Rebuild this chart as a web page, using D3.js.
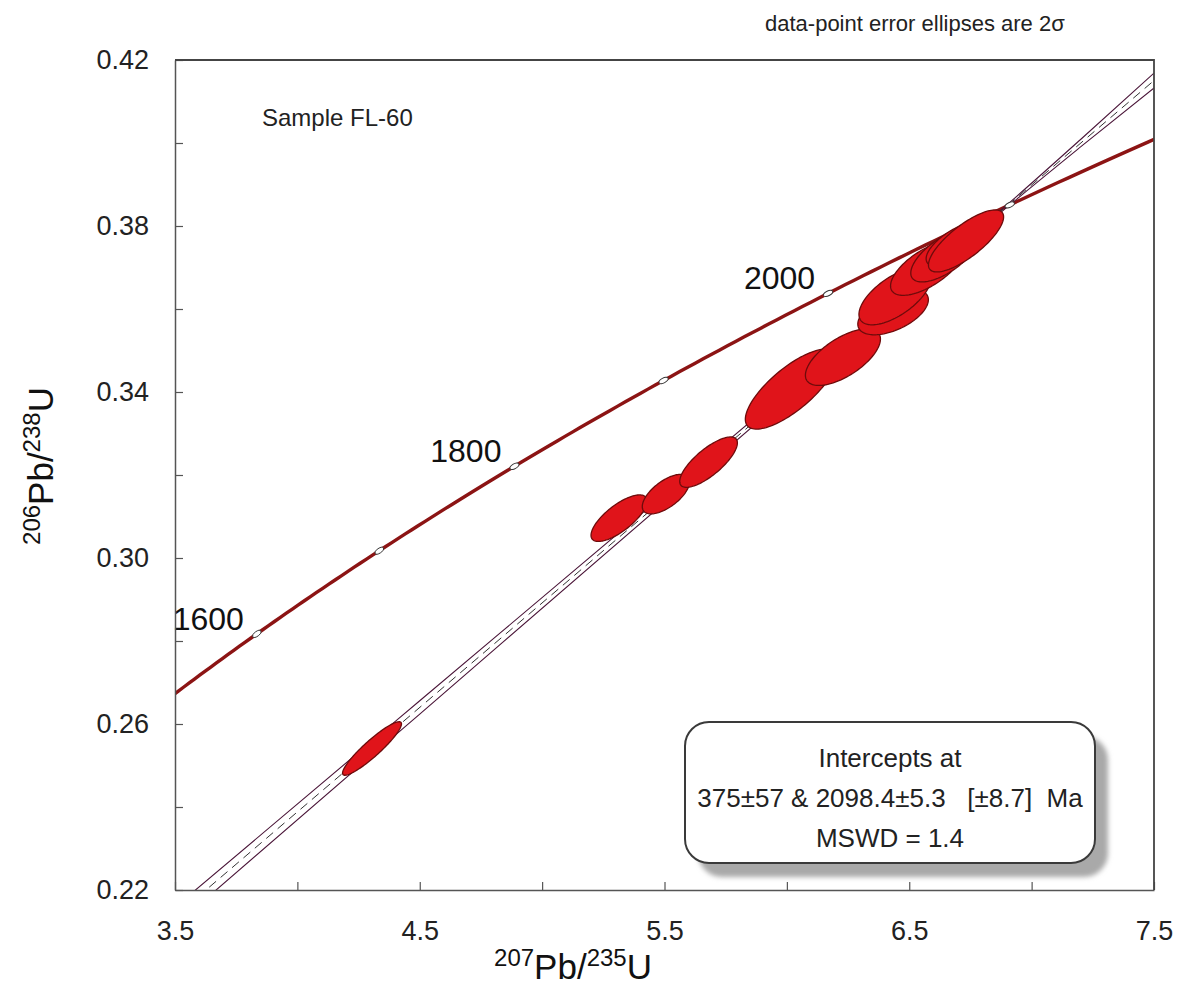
<!DOCTYPE html>
<html>
<head>
<meta charset="utf-8">
<script src="https://cdn.jsdelivr.net/npm/d3@7"></script>
<style>
  html, body { margin: 0; padding: 0; background: #fff; }
  svg { display: block; font-family: "Liberation Sans", Arial, sans-serif; }
</style>
</head>
<body>
<svg id="chart" width="1177" height="990"></svg>
<script>
// ---------------- data ----------------
const xDomain = [3.5, 7.5];
const yDomain = [0.22, 0.42];
const xMinorTicks = [3.5, 4.0, 4.5, 5.0, 5.5, 6.0, 6.5, 7.0, 7.5];
const xLabelTicks = [3.5, 4.5, 5.5, 6.5, 7.5];
const yMinorTicks = [0.22, 0.24, 0.26, 0.28, 0.30, 0.32, 0.34, 0.36, 0.38, 0.40, 0.42];
const yLabelTicks = [0.22, 0.26, 0.30, 0.34, 0.38, 0.42];

// decay constants (per Ma)
const lambda238 = 1.55125e-4;
const lambda235 = 9.8485e-4;
const concordiaAgeRange = [1400, 2260];
const markerAges = [1600, 1700, 1800, 1900, 2000, 2100];
const labelAges = [1600, 1800, 2000];

// discordia intercept ages (Ma)
const interceptAges = [375, 2098.4];
// envelope half widths (in 206Pb/238U units)
const envX    = [3.5,    4.5,    5.5,    6.5,    6.9,    7.2,    7.5];
const envHalf = [0.0022, 0.0016, 0.0010, 0.0005, 0.0003, 0.0009, 0.0018];

// data-point ellipses (2 sigma absolute)
const ellX    = [4.305, 5.314, 5.506, 5.680, 6.017, 6.229, 6.434, 6.442, 6.573, 6.646, 6.699, 6.732];
const ellY    = [0.2541, 0.3096, 0.3154, 0.3231, 0.3407, 0.3484, 0.3593, 0.3631, 0.3699, 0.3730, 0.3757, 0.3764];
const ellErrX = [0.1204, 0.1142, 0.0968, 0.1178, 0.1867, 0.1533, 0.1441, 0.1475, 0.1494, 0.1397, 0.1300, 0.1535];
const ellErrY = [0.00645, 0.00561, 0.00477, 0.00607, 0.00964, 0.00682, 0.00552, 0.00691, 0.00660, 0.00647, 0.00544, 0.00747];
const ellRho  = [0.919, 0.735, 0.631, 0.764, 0.756, 0.640, 0.531, 0.637, 0.656, 0.671, 0.659, 0.775];

const sampleName = "Sample FL-60";
const noteText = "data-point error ellipses are 2\u03c3";
const legendLines = ["Intercepts at", "375\u00b157 & 2098.4\u00b15.3\u00a0\u00a0\u00a0[\u00b18.7]\u00a0\u00a0Ma", "MSWD = 1.4"];

// ---------------- chart ----------------
const svg = d3.select("#chart");
const L = 175, R = 1154, T = 60, B = 890;
const x = d3.scaleLinear().domain(xDomain).range([L, R]);
const y = d3.scaleLinear().domain(yDomain).range([B, T]);

const defs = svg.append("defs");
defs.append("clipPath").attr("id", "plotclip")
  .append("rect").attr("x", L).attr("y", T).attr("width", R - L).attr("height", B - T);
const blur = defs.append("filter").attr("id", "shadowblur").attr("x", "-10%").attr("y", "-10%").attr("width", "120%").attr("height", "120%");
blur.append("feGaussianBlur").attr("stdDeviation", 2.5);

const conc = t => [Math.exp(lambda235 * t) - 1, Math.exp(lambda238 * t) - 1];

const plot = svg.append("g").attr("clip-path", "url(#plotclip)");

// concordia curve
const concPts = d3.range(concordiaAgeRange[0], concordiaAgeRange[1] + 1, 5).map(conc);
const line = d3.line().x(d => x(d[0])).y(d => y(d[1]));
plot.append("path").datum(concPts)
  .attr("d", line).attr("fill", "none")
  .attr("stroke", "#8c1414").attr("stroke-width", 3.4);

// discordia + envelope
const p1 = conc(interceptAges[0]), p2 = conc(interceptAges[1]);
const slope = (p2[1] - p1[1]) / (p2[0] - p1[0]);
const disc = xv => p2[1] + slope * (xv - p2[0]);
const upper = envX.map((xv, i) => [xv, disc(xv) + envHalf[i]]);
const lower = envX.map((xv, i) => [xv, disc(xv) - envHalf[i]]);
const curveLine = d3.line().x(d => x(d[0])).y(d => y(d[1])).curve(d3.curveMonotoneX);
[upper, lower].forEach(pts => {
  plot.append("path").datum(pts).attr("d", curveLine).attr("fill", "none")
    .attr("stroke", "#4a1538").attr("stroke-width", 1.1);
});
plot.append("path").datum([[xDomain[0], disc(xDomain[0])], [xDomain[1], disc(xDomain[1])]])
  .attr("d", line).attr("fill", "none")
  .attr("stroke", "#333").attr("stroke-width", 1).attr("stroke-dasharray", "9,6");

// ellipses
const ellData = ellX.map((cx, i) => ({cx, cy: ellY[i], ex: ellErrX[i], ey: ellErrY[i], rho: ellRho[i]}));
const angles = d3.range(0, 2 * Math.PI, Math.PI / 60);
plot.selectAll("path.ell").data(ellData).enter().append("path")
  .attr("class", "ell")
  .attr("d", d => {
    const k = Math.sqrt(1 - d.rho * d.rho);
    const pts = angles.map(a => [d.cx + d.ex * Math.cos(a), d.cy + d.ey * (d.rho * Math.cos(a) + k * Math.sin(a))]);
    return line(pts) + "Z";
  })
  .attr("fill", "#e0141a").attr("stroke", "#6e0b0b").attr("stroke-width", 1.3);

// concordia age markers
markerAges.forEach(t => {
  const p = conc(t), a = conc(t - 2), b = conc(t + 2);
  const ang = Math.atan2(y(b[1]) - y(a[1]), x(b[0]) - x(a[0])) * 180 / Math.PI;
  svg.append("ellipse")
    .attr("transform", `translate(${x(p[0])},${y(p[1])}) rotate(${ang})`)
    .attr("rx", 5).attr("ry", 2.4)
    .attr("fill", "#fff").attr("stroke", "#333").attr("stroke-width", 0.9);
});
labelAges.forEach(t => {
  const p = conc(t);
  svg.append("text")
    .attr("x", x(p[0]) - 13).attr("y", y(p[1]) - 4)
    .attr("text-anchor", "end").attr("font-size", 32).attr("fill", "#111")
    .text(t);
});

// axes
const fmt = d3.format(".2f");
const yAxis = d3.axisLeft(y).tickValues(yMinorTicks).tickSizeInner(-8).tickSizeOuter(0).tickPadding(26)
  .tickFormat(d => yLabelTicks.some(v => Math.abs(v - d) < 1e-9) ? fmt(d) : "");
const xAxis = d3.axisBottom(x).tickValues(xMinorTicks).tickSizeInner(-8).tickSizeOuter(0).tickPadding(31)
  .tickFormat(d => xLabelTicks.some(v => Math.abs(v - d) < 1e-9) ? d3.format(".1f")(d) : "");
const gy = svg.append("g").attr("transform", `translate(${L},0)`).call(yAxis);
const gx = svg.append("g").attr("transform", `translate(0,${B})`).call(xAxis);
[gx, gy].forEach(g => {
  g.selectAll("path.domain").attr("stroke", "#555").attr("stroke-width", 1.5);
  g.selectAll(".tick line").attr("stroke", "#555").attr("stroke-width", 1.2);
  g.selectAll(".tick text").attr("font-size", 27).attr("fill", "#222")
    .attr("font-family", "Liberation Sans, Arial, sans-serif");
});
// frame top & right
svg.append("path").attr("d", `M${L},${T}H${R}V${B}`).attr("fill", "none")
  .attr("stroke", "#444").attr("stroke-width", 1.8);

// axis titles
const xt = svg.append("text").attr("x", 573).attr("y", 979).attr("text-anchor", "middle").attr("fill", "#111");
xt.append("tspan").attr("font-size", 24).attr("dy", -13).text("207");
xt.append("tspan").attr("font-size", 35).attr("dy", 13).text("Pb/");
xt.append("tspan").attr("font-size", 24).attr("dy", -13).text("235");
xt.append("tspan").attr("font-size", 35).attr("dy", 13).text("U");

const yt = svg.append("text").attr("transform", "translate(53,466) rotate(-90)").attr("text-anchor", "middle").attr("fill", "#111");
yt.append("tspan").attr("font-size", 24).attr("dy", -13).text("206");
yt.append("tspan").attr("font-size", 35).attr("dy", 13).text("Pb/");
yt.append("tspan").attr("font-size", 24).attr("dy", -13).text("238");
yt.append("tspan").attr("font-size", 35).attr("dy", 13).text("U");

// sample name and note
svg.append("text").attr("x", 262).attr("y", 126).attr("font-size", 24).attr("fill", "#222").text(sampleName);
svg.append("text").attr("x", 765).attr("y", 31).attr("font-size", 22).attr("fill", "#222").text(noteText);

// legend box
const lg = {x: 685, y: 722, w: 410, h: 141, r: 24};
svg.append("rect").attr("x", lg.x + 13).attr("y", lg.y + 14).attr("width", lg.w).attr("height", lg.h)
  .attr("rx", lg.r).attr("fill", "#a9a9a9").attr("filter", "url(#shadowblur)");
svg.append("rect").attr("x", lg.x).attr("y", lg.y).attr("width", lg.w).attr("height", lg.h)
  .attr("rx", lg.r).attr("fill", "#fff").attr("stroke", "#3a3a3a").attr("stroke-width", 2);
legendLines.forEach((s, i) => {
  svg.append("text").attr("x", lg.x + lg.w / 2).attr("y", 767 + i * 40)
    .attr("text-anchor", "middle").attr("font-size", 26).attr("fill", "#222").text(s);
});
</script>
</body>
</html>
